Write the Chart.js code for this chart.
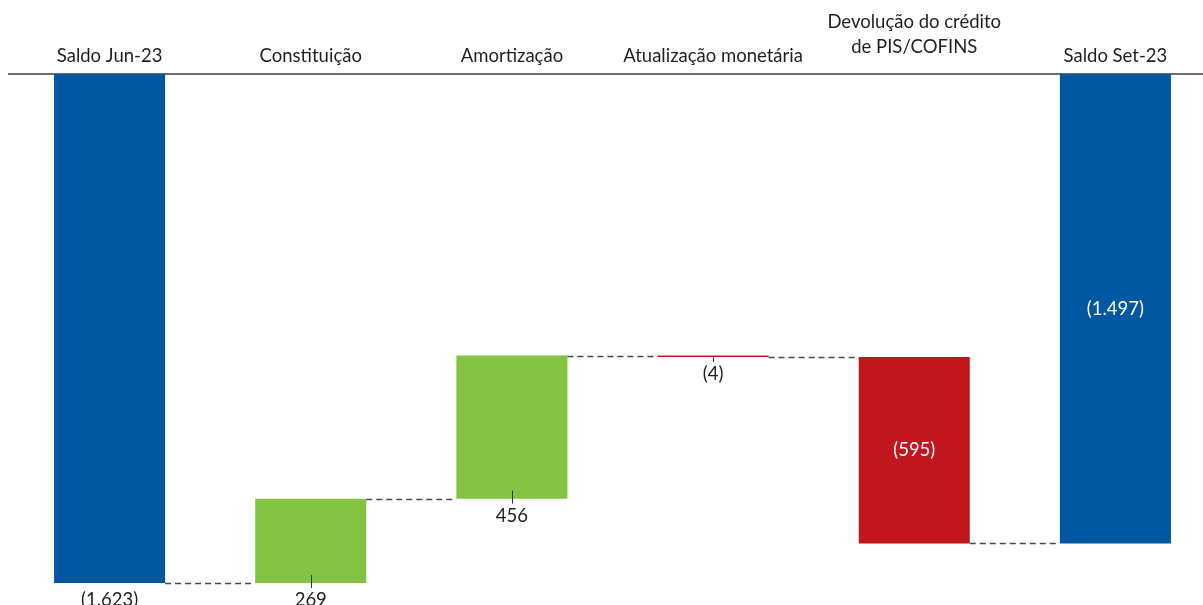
<!DOCTYPE html>
<html lang="pt-BR">
<head>
<meta charset="utf-8">
<title>Movimentação do saldo</title>
<script src="https://cdn.jsdelivr.net/npm/chart.js@4.4.1/dist/chart.umd.min.js"></script>
<style>
  html, body { margin: 0; padding: 0; background: #fff; overflow: hidden; }
  #wrap { position: relative; width: 1216px; height: 605px; }
</style>
</head>
<body>
<div id="wrap"><canvas id="grafico"></canvas></div>
<script>
// categorias e valores (R$ milhões)
const categorias = [
  "Saldo Jun-23",
  "Constituição",
  "Amortização",
  "Atualização monetária",
  ["Devolução do crédito", "de PIS/COFINS"],
  "Saldo Set-23"
];
const valores = [-1623, 269, 456, -4, -595, -1497];
const ehTotal = [true, false, false, false, false, true];
const rotuloDentro = [false, false, false, false, true, true];

const AZUL = "#0157a0";
const VERDE = "#84c342";
const VERMELHO = "#c1161d";
const FONTE = "Lato, 'Open Sans', sans-serif";
const TAM = 18.5;

// monta as barras flutuantes do waterfall
let acumulado = 0;
const faixas = [];
const niveis = [];
valores.forEach((v, i) => {
  if (ehTotal[i]) {
    faixas.push([0, v]);
    acumulado = v;
  } else {
    faixas.push([acumulado, acumulado + v]);
    acumulado += v;
  }
  niveis.push(acumulado);
});
const cores = valores.map((v, i) => ehTotal[i] ? AZUL : (v >= 0 ? VERDE : VERMELHO));

function formata(v) {
  const s = Math.abs(v).toLocaleString("pt-BR");
  return v < 0 ? "(" + s + ")" : s;
}

// linhas tracejadas entre as barras + rótulos de valor
const extras = {
  id: "extras",
  afterDatasetsDraw(chart) {
    const ctx = chart.ctx;
    const y = chart.scales.y;
    const barras = chart.getDatasetMeta(0).data;
    ctx.save();

    ctx.strokeStyle = "#4a4a4a";
    ctx.lineWidth = 1.3;
    ctx.setLineDash([6, 4]);
    for (let i = 0; i < barras.length - 1; i++) {
      const a = barras[i], b = barras[i + 1];
      const py = Math.round(y.getPixelForValue(niveis[i])) + 0.5;
      ctx.beginPath();
      ctx.moveTo(a.x + a.width / 2, py);
      ctx.lineTo(b.x - b.width / 2, py);
      ctx.stroke();
    }
    ctx.setLineDash([]);

    ctx.font = TAM + "px " + FONTE;
    ctx.textAlign = "center";
    ctx.textBaseline = "middle";
    barras.forEach((bar, i) => {
      const baixo = Math.max(bar.y, bar.base);
      const cima = Math.min(bar.y, bar.base);
      const texto = formata(valores[i]);
      if (rotuloDentro[i]) {
        ctx.fillStyle = "#ffffff";
        ctx.fillText(texto, bar.x, (cima + baixo) / 2);
      } else {
        if (!ehTotal[i]) {
          // tracinho ligando a barra ao rótulo
          const x = Math.round(bar.x) + 0.5;
          ctx.strokeStyle = "#333";
          ctx.lineWidth = 1;
          ctx.beginPath();
          ctx.moveTo(x, Math.max(cima + 1, baixo - 8));
          ctx.lineTo(x, baixo + 5);
          ctx.stroke();
        }
        ctx.fillStyle = "#1f1f1f";
        ctx.fillText(texto, bar.x, baixo + 17);
      }
    });
    ctx.restore();
  }
};

new Chart(document.getElementById("grafico"), {
  type: "bar",
  data: {
    labels: categorias,
    datasets: [{
      data: faixas,
      backgroundColor: cores,
      borderWidth: 0,
      borderSkipped: false,
      categoryPercentage: 1,
      barPercentage: 0.552
    }]
  },
  options: {
    responsive: true,
    maintainAspectRatio: false,
    animation: false,
    layout: { padding: { left: 9, right: 0, top: 0, bottom: 1 } },
    plugins: {
      legend: { display: false },
      tooltip: { enabled: false }
    },
    scales: {
      x: {
        position: "top",
        grid: { display: false, drawTicks: false },
        border: { display: true, color: "#6e6e6e", width: 2 },
        ticks: {
          color: "#1f1f1f",
          padding: 14,
          autoSkip: false,
          maxRotation: 0,
          // rótulo de duas linhas fica mais alto que os demais
          font: (c) => ({
            family: FONTE,
            size: TAM,
            lineHeight: Array.isArray(categorias[c.index]) ? "25px" : "7px"
          })
        },
        afterFit(scale) { scale.height = 74; }
      },
      y: {
        display: false,
        min: -1690,
        max: 0
      }
    }
  },
  plugins: [extras]
});
</script>
</body>
</html>
